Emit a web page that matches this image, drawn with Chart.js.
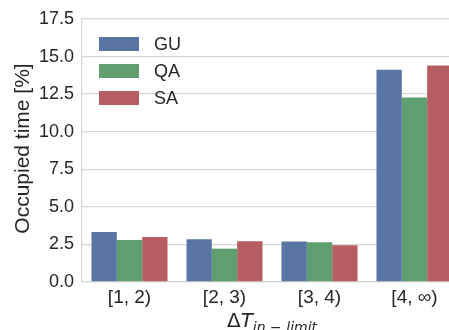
<!DOCTYPE html>
<html>
<head>
<meta charset="utf-8">
<script src="https://cdn.jsdelivr.net/npm/chart.js@4/dist/chart.umd.min.js"></script>
<style>
  html, body { margin: 0; padding: 0; background: #ffffff; overflow: hidden; width: 449px; height: 330px; }
  canvas { display: block; }
</style>
</head>
<body>
<canvas id="c" width="480" height="330"></canvas>
<script>
// Share of occupied time per temperature-excess band
const categories = ['[1, 2)', '[2, 3)', '[3, 4)', '[4, \u221E)'];
const seriesNames = ['GU', 'QA', 'SA'];
const guValues = [3.33, 2.84, 2.69, 14.13];
const qaValues = [2.80, 2.22, 2.64, 12.27];
const saValues = [3.00, 2.71, 2.44, 14.40];
const seriesColors = ['#5975a4', '#5f9e6e', '#b55d60'];
const yTickStep = 2.5;
const yMax = 17.5;

const TEXT = '#262626';
const GRID = '#d6d6d6';
const SANS = '"Liberation Sans", Arial, sans-serif';

// Legend in the upper-left corner of the plot area
const insideLegend = {
  id: 'insideLegend',
  afterDraw(chart) {
    const ctx = chart.ctx;
    const area = chart.chartArea;
    ctx.save();
    ctx.font = '18px ' + SANS;
    ctx.textBaseline = 'middle';
    chart.data.datasets.forEach((ds, i) => {
      const y = area.top + 25 + i * 27;
      ctx.fillStyle = ds.backgroundColor;
      ctx.fillRect(area.left + 17, y - 7, 40, 14);
      ctx.fillStyle = TEXT;
      ctx.fillText(ds.label, area.left + 72, y + 1);
    });
    ctx.restore();
  }
};

// Axis titles: rotated y label and the math-style x label
const axisTitles = {
  id: 'axisTitles',
  afterDraw(chart) {
    const ctx = chart.ctx;
    const area = chart.chartArea;
    ctx.save();
    ctx.fillStyle = TEXT;
    // y title
    ctx.translate(23, (area.top + area.bottom) / 2 - 2);
    ctx.rotate(-Math.PI / 2);
    ctx.font = '21px ' + SANS;
    ctx.textAlign = 'center';
    ctx.textBaseline = 'middle';
    ctx.fillText('Occupied time [%]', 0, 0);
    ctx.restore();

    // x title: ΔT with italic subscript
    ctx.save();
    ctx.fillStyle = TEXT;
    ctx.textBaseline = 'alphabetic';
    const fMain = '20px "DejaVu Sans", sans-serif';
    const fIt = 'italic 20px "DejaVu Sans", sans-serif';
    const fSub = 'italic 14px "DejaVu Sans", sans-serif';
    const parts = [
      { t: '\u0394', f: fMain, dy: 0 },
      { t: 'T', f: fIt, dy: 0 },
      { t: 'in \u2212 limit', f: fSub, dy: 5 }
    ];
    let total = 0;
    parts.forEach(p => { ctx.font = p.f; p.w = ctx.measureText(p.t).width; total += p.w; });
    let x = (area.left + area.right) / 2 - total / 2;
    const base = 326.5;
    parts.forEach(p => {
      ctx.font = p.f;
      ctx.fillText(p.t, x, base + p.dy);
      x += p.w;
    });
    ctx.restore();
  }
};

new Chart(document.getElementById('c'), {
  type: 'bar',
  data: {
    labels: categories,
    datasets: [guValues, qaValues, saValues].map((vals, i) => ({
      label: seriesNames[i],
      data: vals,
      backgroundColor: seriesColors[i],
      borderWidth: 0,
      categoryPercentage: 0.8,
      barPercentage: 1.0
    }))
  },
  options: {
    responsive: false,
    animation: false,
    devicePixelRatio: 1,
    layout: { padding: { top: 19, right: 18, left: 0, bottom: 0 } },
    plugins: { legend: { display: false }, tooltip: { enabled: false } },
    scales: {
      x: {
        grid: { display: false, drawTicks: false },
        border: { display: true, color: GRID, width: 1.3 },
        ticks: { color: TEXT, font: { family: SANS, size: 19 }, padding: 4 },
        afterFit(scale) { scale.height = 48; }
      },
      y: {
        min: 0,
        max: yMax,
        grid: { color: GRID, lineWidth: 1.3, drawTicks: false },
        border: { display: true, color: GRID, width: 1.3 },
        ticks: {
          stepSize: yTickStep,
          color: TEXT,
          font: { family: SANS, size: 18 },
          padding: 8,
          callback: v => Number(v).toFixed(1)
        },
        afterFit(scale) { scale.width = 82; }
      }
    }
  },
  plugins: [insideLegend, axisTitles]
});
</script>
</body>
</html>
